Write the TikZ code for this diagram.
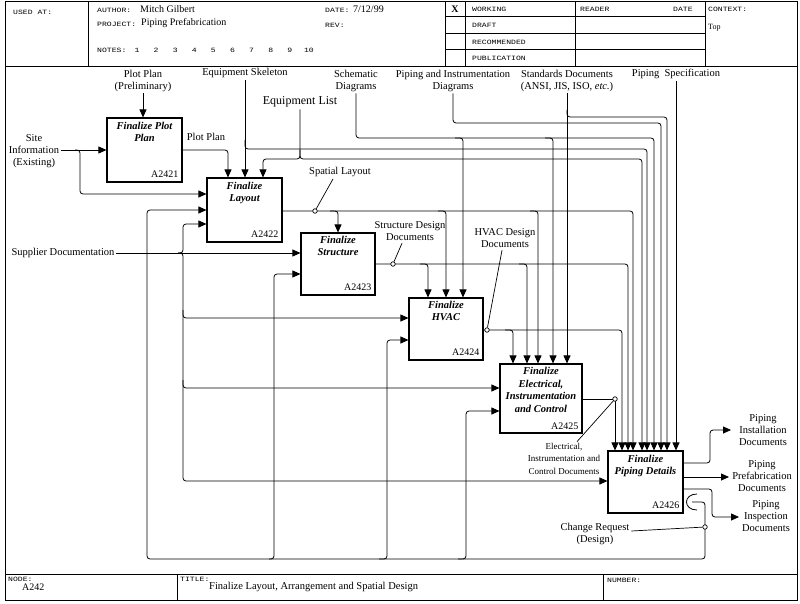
\documentclass[tikz,border=0pt]{standalone}
\usepackage{fontspec}
\setmainfont{Liberation Serif}
\newfontfamily\hdrfont[FakeStretch=1.25]{Liberation Mono}
\usetikzlibrary{arrows.meta}
\tikzset{
  wire/.style={line width=0.8pt, rounded corners=3pt},
  arr/.style={wire, -{Triangle[length=8pt,width=7pt]}},
  fbox/.style={draw, line width=1.1pt, inner sep=0pt},
  ttl/.style={font=\fontsize{10.5}{12}\selectfont\bfseries\itshape, align=center, anchor=north, inner sep=0pt},
  num/.style={font=\fontsize{10}{11}\selectfont, anchor=south east, inner sep=0pt},
  lbl/.style={font=\fontsize{10.5}{12}\selectfont, align=center, inner sep=0pt},
  hdr/.style={font=\hdrfont\fontsize{6.5}{7}\selectfont, inner sep=0pt, anchor=west},
  val/.style={font=\fontsize{10}{11}\selectfont, inner sep=0pt, anchor=west},
  jdot/.style={circle, draw, fill=white, line width=0.7pt, inner sep=0pt, minimum size=4.5pt},
  frm/.style={line width=1pt},
  leader/.style={line width=0.7pt},
}
\begin{document}
\begin{tikzpicture}[x=1pt,y=-1pt]
\useasboundingbox (0,0) rectangle (800,604);
\fill[white] (0,0) rectangle (800,604);

% ---------- frame, header, footer ----------
\draw[frm] (5,1.5) rectangle (797,600);
\draw[frm] (5,67) -- (797,67);
\draw[frm] (5,574) -- (797,574);
\draw[frm] (88,1.5) -- (88,67);
\draw[frm] (445,1.5) -- (445,67);
\draw[frm] (465,1.5) -- (465,67);
\draw[frm] (575,1.5) -- (575,67);
\draw[frm] (705,1.5) -- (705,67);
\draw[frm] (445,17) -- (705,17);
\draw[frm] (445,33.5) -- (705,33.5);
\draw[frm] (445,50) -- (705,50);
\draw[frm] (177,574) -- (177,600);
\draw[frm] (603,574) -- (603,600);

\node[hdr] (hUsed) at (13,12) {USED AT:};
\node[hdr] (hAuth) at (97,10) {AUTHOR:};
\node[val] (vAuth) at (140,9) {Mitch Gilbert};
\node[hdr] (hProj) at (97,24) {PROJECT:};
\node[val] (vProj) at (141,23) {Piping Prefabrication};
\node[hdr] (hDate) at (325,10) {DATE:};
\node[val] (vDate) at (353,9) {7/12/99};
\node[hdr] (hRev) at (325,25) {REV:};
\node[hdr] (hNotes) at (97,50) {NOTES:};
\foreach \i in {1,...,10}
  \node[hdr, anchor=center] (n\i) at ({137+19.1*(\i-1)},50) {\i};
\node[font=\fontsize{10}{11}\selectfont\bfseries, inner sep=0pt] (hX) at (455,9) {X};
\node[hdr] (hW) at (472,9) {WORKING};
\node[hdr] (hD) at (472,25.5) {DRAFT};
\node[hdr] (hR) at (472,42) {RECOMMENDED};
\node[hdr] (hP) at (472,58.5) {PUBLICATION};
\node[hdr] (hRd) at (580,9) {READER};
\node[hdr] (hDt) at (673,9) {DATE};
\node[hdr] (hCx) at (708,9) {CONTEXT:};
\node[val, font=\fontsize{8}{9}\selectfont] (vTop) at (708,28) {Top};

\node[hdr] (hNode) at (8,579) {NODE:};
\node[val] (vNode) at (22,587) {A242};
\node[hdr] (hTitle) at (180,579) {TITLE:};
\node[val, font=\fontsize{10.5}{12}\selectfont] (vTitle) at (209,587) {Finalize Layout, Arrangement and Spatial Design};
\node[hdr] (hNum) at (607,580) {NUMBER:};

% ---------- activity boxes ----------
\node[fbox, minimum width=75pt, minimum height=64pt] (b1) at (144.5,150) {};
\node[fbox, minimum width=75pt, minimum height=64pt] (b2) at (244.5,210) {};
\node[fbox, minimum width=74pt, minimum height=62pt] (b3) at (338,264) {};
\node[fbox, minimum width=74pt, minimum height=62pt] (b4) at (446,329) {};
\node[fbox, minimum width=82pt, minimum height=69pt] (b5) at (541,398.5) {};
\node[fbox, minimum width=75pt, minimum height=62pt] (b6) at (645.5,482) {};

\node[ttl] (t1) at ([yshift=-5pt]b1.north) {Finalize Plot\\Plan};
\node[ttl] (t2) at ([yshift=-5pt]b2.north) {Finalize\\Layout};
\node[ttl] (t3) at ([yshift=-4pt]b3.north) {Finalize\\Structure};
\node[ttl] (t4) at ([yshift=-4pt]b4.north) {Finalize\\HVAC};
\node[ttl, font=\fontsize{10.5}{12.5}\selectfont\bfseries\itshape] (t5) at ([yshift=-4pt]b5.north) {Finalize\\Electrical,\\Instrumentation\\and Control};
\node[ttl] (t6) at ([yshift=-5pt]b6.north) {Finalize\\Piping Details};

\node[num] (a1) at ([xshift=-4pt,yshift=5pt]b1.south east) {A2421};
\node[num] (a2) at ([xshift=-4pt,yshift=5pt]b2.south east) {A2422};
\node[num] (a3) at ([xshift=-4pt,yshift=5pt]b3.south east) {A2423};
\node[num] (a4) at ([xshift=-4pt,yshift=5pt]b4.south east) {A2424};
\node[num] (a5) at ([xshift=-4pt,yshift=4pt]b5.south east) {A2425};
\node[num] (a6) at ([xshift=-4pt,yshift=5pt]b6.south east) {A2426};

% ---------- labels ----------
\node[lbl] (lPP) at (143,80.5) {Plot Plan\\(Preliminary)};
\node[lbl] (lES) at (245,73) {Equipment Skeleton};
\node[lbl, font=\fontsize{12}{13}\selectfont] (lEL) at (300,102) {Equipment List};
\node[lbl] (lSD) at (356,80.5) {Schematic\\Diagrams};
\node[lbl] (lPID) at (453,80.5) {Piping and Instrumentation\\Diagrams};
\node[lbl] (lSTD) at (567,80.5) {Standards Documents\\(ANSI, JIS, ISO, \textit{etc.})};
\node[lbl] (lPS) at (676,74) {Piping\ \ Specification};
\node[lbl] (lSite) at (34,151) {Site\\Information\\(Existing)};
\node[lbl] (lPlot) at (206,137) {Plot Plan};
\node[lbl] (lSup) at (63,253) {Supplier Documentation};
\node[lbl] (lSp) at (340,172) {Spatial Layout};
\node[lbl] (lSt) at (410,231.5) {Structure Design\\Documents};
\node[lbl] (lHV) at (505,238.5) {HVAC Design\\Documents};
\node[lbl, font=\fontsize{9}{12.5}\selectfont] (lEl) at (564,458.5) {Electrical,\\Instrumentation and\\Control Documents};
\node[lbl] (lCR) at (595,534) {Change Request\\(Design)};
\node[lbl] (lPI) at (763,430.5) {Piping\\Installation\\Documents};
\node[lbl] (lPF) at (762,476.5) {Piping\\Prefabrication\\Documents};
\node[lbl] (lPX) at (766,516) {Piping\\Inspection\\Documents};

% ---------- controls from the top ----------
\draw[arr] ([yshift=-2pt]lPP.south) -- (lPP.south |- b1.north);
\draw[arr] ([yshift=-2pt]lES.south) -- (lES.south |- b2.north);
\draw[arr] (245,140) |- (647,149) -- (647,0 |- b6.north);
\draw[arr] ([yshift=-2pt]lEL.south) -- (300,159) -| (263,0 |- b2.north);
\draw[arr] (300,150) |- (642,159) -- (642,0 |- b6.north);
\draw[arr] ([yshift=-2pt]lSD.south) |- (654,138) -- (654,0 |- b6.north);
\draw[arr] (455,138) -| (463,0 |- b4.north);
\draw[arr] (545,138) -| (553,0 |- b5.north);
\draw[arr] ([yshift=-2pt]lPID.south) |- (661,123) -- (661,0 |- b6.north);
\draw[arr] ([yshift=-2pt]lSTD.south) -- (lSTD.south |- b5.north);
\draw[arr] (567,110) |- (667,117) -- (667,0 |- b6.north);
\draw[arr] ([yshift=-2pt]lPS.south) -- (lPS.south |- b6.north);

% ---------- inputs from the left ----------
\draw[arr] ([xshift=2pt]lSite.east |- 0,150) -- (b1.west |- 0,150);
\draw[arr] (75,150) -| (80,194) -- (b2.west |- 0,194);
\draw[arr] (b1.east |- 0,150) -| (228,0 |- b2.north);
\draw[arr] ([xshift=1pt]lSup.east) -- (b3.west |- 0,253);
\draw[arr] (178,253) -| (183,224) -- (b2.west |- 0,224);
\draw[arr] (178,253) -| (183,481) -- (b6.west |- 0,481);
\draw[arr] (183,310) |- (b4.west |- 0,318);
\draw[arr] (183,380) |- (b5.west |- 0,388);

% ---------- outputs between boxes ----------
\draw[arr] (b2.east |- 0,211) -| (633,0 |- b6.north);
\draw[arr] (330,211) -| (338,0 |- b3.north);
\draw[arr] (438,211) -| (446,0 |- b4.north);
\draw[arr] (530,211) -| (538,0 |- b5.north);
\draw[arr] (b3.east |- 0,264) -| (628,0 |- b6.north);
\draw[arr] (420,264) -| (428,0 |- b4.north);
\draw[arr] (519,264) -| (527,0 |- b5.north);
\draw[arr] (b4.east |- 0,330) -| (622,0 |- b6.north);
\draw[arr] (505,330) -| (513,0 |- b5.north);
\draw[arr, sharp corners] (b5.east |- 0,399) -| (615,0 |- b6.north);

% ---------- feedback (change request) ----------
\draw[wire] (697,494) .. controls (683,494) and (683,510) .. (697,510);
\draw[arr] (692,502) -- (705,502) -- (705,559) -- (147,559) -- (147,210) -- (b2.west |- 0,210);
\draw[arr] (269,559) -| (274,274) -- (b3.west |- 0,274);
\draw[arr] (379,559) -| (387,340) -- (b4.west |- 0,340);
\draw[arr] (458,559) -| (466,411) -- (b5.west |- 0,411);

% ---------- final outputs ----------
\draw[arr] (b6.east |- 0,463) -| (710,430) -- (731,430);
\draw[arr] (b6.east |- 0,477) -- (729,477);
\draw[arr] (b6.east |- 0,489) -| (712,517) -- (739,517);

% ---------- junction dots and leaders ----------
\node[jdot] (jSp) at (315,211) {};
\node[jdot] (jSt) at (393,264) {};
\node[jdot] (jHV) at (487,330) {};
\node[jdot] (jEl) at (615,399) {};
\node[jdot] (jCR) at (705,527) {};
\draw[leader] ([xshift=-7pt,yshift=-2pt]lSp.south) -- (jSp);
\draw[leader] ([xshift=-8pt,yshift=-2pt]lSt.south) -- (jSt);
\draw[leader] ([xshift=-3pt,yshift=-2pt]lHV.south) -- (jHV);
\draw[leader] ([xshift=13pt,yshift=1pt]lEl.north) -- (jEl);
\draw[leader] ([xshift=2pt,yshift=3pt]lCR.east) -- (jCR);
\end{tikzpicture}
\end{document}
